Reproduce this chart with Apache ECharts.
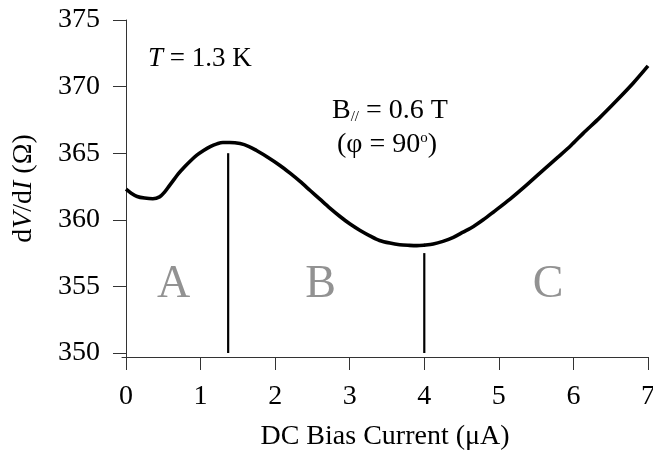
<!DOCTYPE html>
<html>
<head>
<meta charset="utf-8">
<script src="https://cdn.jsdelivr.net/npm/echarts@6/dist/echarts.min.js"></script>
<style>
  html, body { margin: 0; padding: 0; background: #fff; }
  #chart { width: 653px; height: 454px; }
</style>
</head>
<body>
<div id="chart"></div>
<script>
// bias current (uA) and dV/dI (ohm)
var biasCurrent = [0.00, 0.07, 0.15, 0.25, 0.36, 0.45, 0.52, 0.58, 0.64, 0.70, 0.78, 0.86, 0.95, 1.04, 1.13, 1.22, 1.30, 1.39,
  1.53, 1.65, 1.75, 1.90, 2.06, 2.20, 2.33, 2.47, 2.60, 2.73, 2.87, 3.00, 3.14, 3.27, 3.40, 3.54, 3.67, 3.80,
  3.90, 4.00, 4.12, 4.25, 4.39, 4.52, 4.66, 4.79, 4.92, 5.15, 5.37, 5.58, 5.80, 5.97, 6.13, 6.35, 6.58, 6.80, 7.00];
var resistance = [362.3, 362.0, 361.75, 361.63, 361.58, 361.72, 362.1, 362.55, 363.0, 363.45, 363.95, 364.4, 364.85, 365.2, 365.5, 365.7, 365.8, 365.8,
  365.72, 365.5, 365.2, 364.7, 364.1, 363.5, 362.9, 362.2, 361.55, 360.9, 360.25, 359.7, 359.2, 358.8, 358.45, 358.25, 358.13, 358.08,
  358.06, 358.1, 358.18, 358.38, 358.68, 359.07, 359.5, 360.0, 360.55, 361.55, 362.6, 363.65, 364.74, 365.6, 366.49, 367.65, 368.95, 370.25, 371.55];

// region boundaries
var dividerX = [1.37, 4.0];
var dividerTop = [365, 357.5];
var dividerBottom = 350;

// region letters
var regionNames = ['A', 'B', 'C'];
var regionX = [0.64, 2.61, 5.66];
var regionY = 355.1;

var xTicks = [0, 1, 2, 3, 4, 5, 6, 7];
var yTicks = [350, 355, 360, 365, 370, 375];

var serif = '"Liberation Serif", "DejaVu Serif", serif';

var chart = echarts.init(document.getElementById('chart'), null, { renderer: 'canvas' });

var series = [{
  type: 'line',
  data: biasCurrent.map(function (x, i) { return [x, resistance[i]]; }),
  smooth: 0.3,
  showSymbol: false,
  lineStyle: { color: '#000', width: 3.6 },
  silent: true,
  z: 3
}];

dividerX.forEach(function (x, i) {
  series.push({
    type: 'line',
    data: [[x, dividerTop[i]], [x, dividerBottom]],
    showSymbol: false,
    lineStyle: { color: '#000', width: 2.2 },
    silent: true,
    z: 2
  });
});

series.push({
  type: 'scatter',
  data: regionNames.map(function (n, i) { return { name: n, value: [regionX[i], regionY] }; }),
  symbolSize: 0,
  label: {
    show: true,
    position: 'inside',
    formatter: '{b}',
    fontFamily: serif,
    fontSize: 46,
    color: '#777'
  },
  silent: true
});

var option = {
  backgroundColor: '#fff',
  animation: false,
  grid: {
    left: 122,
    right: 5,
    top: 20,
    bottom: 97,
    containLabel: false,
    outerBoundsMode: 'none'
  },
  xAxis: {
    type: 'value',
    min: -0.0536,
    max: 7,
    name: 'DC Bias Current (μA)',
    nameLocation: 'middle',
    nameGap: 66,
    nameTextStyle: { fontFamily: serif, fontSize: 28, color: '#000' },
    axisLine: { show: true, lineStyle: { color: '#333', width: 1 } },
    axisTick: { show: true, length: 13, customValues: xTicks, lineStyle: { color: '#333', width: 1 } },
    axisLabel: { customValues: xTicks, margin: 26, fontFamily: serif, fontSize: 28, color: '#000' },
    splitLine: { show: false }
  },
  yAxis: {
    type: 'value',
    min: 349.7,
    max: 375,
    name: '{r|d}{i|V}{r|/d}{i|I}{r| (Ω)}',
    nameLocation: 'middle',
    nameGap: 84,
    nameTextStyle: {
      fontFamily: serif, fontSize: 28, color: '#000',
      rich: {
        r: { fontFamily: serif, fontSize: 28, color: '#000' },
        i: { fontFamily: serif, fontSize: 28, color: '#000', fontStyle: 'italic' }
      }
    },
    axisLine: { show: true, lineStyle: { color: '#333', width: 1 } },
    axisTick: { show: true, length: 13, customValues: yTicks, lineStyle: { color: '#333', width: 1 } },
    axisLabel: { customValues: yTicks, margin: 22, fontFamily: serif, fontSize: 28, color: '#000' },
    splitLine: { show: false }
  },
  graphic: [
    {
      type: 'text', left: 148, top: 45,
      style: {
        text: '{i|T}{r| = 1.3 K}',
        rich: {
          r: { fontFamily: serif, fontSize: 27, fill: '#000' },
          i: { fontFamily: serif, fontSize: 27, fill: '#000', fontStyle: 'italic' }
        }
      }
    },
    {
      type: 'text', left: 332, top: 97,
      style: {
        text: '{r|B}{s|//}{r| = 0.6 T}',
        rich: {
          r: { fontFamily: serif, fontSize: 28, lineHeight: 28, fill: '#000' },
          s: { fontFamily: serif, fontSize: 15, lineHeight: 15, fill: '#000', verticalAlign: 'bottom' }
        }
      }
    },
    {
      type: 'text', left: 337, top: 131,
      style: {
        text: '{r|(φ = 90}{s|o}{r|)}',
        rich: {
          r: { fontFamily: serif, fontSize: 28, lineHeight: 28, fill: '#000' },
          s: { fontFamily: serif, fontSize: 15, lineHeight: 15, fill: '#000', verticalAlign: 'top' }
        }
      }
    }
  ],
  series: series
};

chart.setOption(option);
</script>
</body>
</html>
